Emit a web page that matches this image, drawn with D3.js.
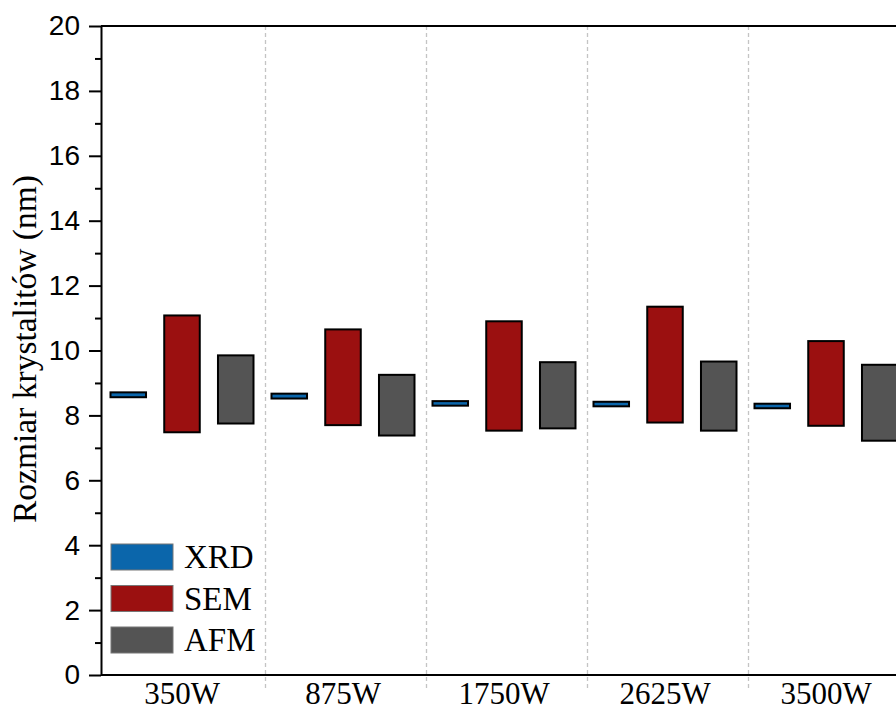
<!DOCTYPE html>
<html>
<head>
<meta charset="utf-8">
<script src="https://cdn.jsdelivr.net/npm/d3@7"></script>
<style>
  html, body { margin: 0; padding: 0; background: #fff; }
  svg { display: block; }
</style>
</head>
<body>
<svg id="chart" width="896" height="711"></svg>
<script>
// ---- data ----
const categories = ["350W", "875W", "1750W", "2625W", "3500W"];
const seriesNames = ["XRD", "SEM", "AFM"];
const xrdLow  = [8.56, 8.52, 8.30, 8.28, 8.22];
const xrdHigh = [8.71, 8.67, 8.44, 8.42, 8.36];
const semLow  = [7.48, 7.70, 7.53, 7.78, 7.68];
const semHigh = [11.08, 10.65, 10.90, 11.35, 10.29];
const afmLow  = [7.75, 7.38, 7.60, 7.53, 7.22];
const afmHigh = [9.85, 9.25, 9.64, 9.66, 9.56];
const yTicks = [0, 2, 4, 6, 8, 10, 12, 14, 16, 18, 20];
const yMinorTicks = [1, 3, 5, 7, 9, 11, 13, 15, 17, 19];
const colors = ["#0b66ab", "#9b1010", "#545454"];
const yTitle = "Rozmiar krystalitów (nm)";

const lows = [xrdLow, semLow, afmLow];
const highs = [xrdHigh, semHigh, afmHigh];

const svg = d3.select("#chart");
const axisX0 = 101, plotRight = 909, yTop = 26, yBottom = 675;

const y = d3.scaleLinear().domain([0, 20]).range([yBottom, yTop]);
const x = d3.scaleBand().domain(categories).range([101.5, 906.5]).padding(0);
const xs = d3.scaleBand().domain(seriesNames).range([9, 152]).paddingInner(0.339).paddingOuter(0);

// separators (dashed)
svg.append("g").selectAll("line")
  .data(categories.slice(0, -1))
  .join("line")
  .attr("x1", d => x(d) + x.bandwidth() + 3)
  .attr("x2", d => x(d) + x.bandwidth() + 3)
  .attr("y1", yTop).attr("y2", 690)
  .attr("stroke", "#c4c4c4").attr("stroke-width", 1.3)
  .attr("stroke-dasharray", "4,3");

// bars
seriesNames.forEach((s, si) => {
  svg.append("g").selectAll("rect")
    .data(categories.map((c, i) => ({c, lo: lows[si][i], hi: highs[si][i]})))
    .join("rect")
    .attr("x", d => x(d.c) + xs(s))
    .attr("width", xs.bandwidth())
    .attr("y", d => y(d.hi))
    .attr("height", d => y(d.lo) - y(d.hi))
    .attr("fill", colors[si])
    .attr("stroke", "#000").attr("stroke-width", 2);
});

// frame lines
svg.append("line").attr("x1", axisX0).attr("x2", plotRight).attr("y1", yTop).attr("y2", yTop)
  .attr("stroke", "#000").attr("stroke-width", 2);
svg.append("line").attr("x1", axisX0).attr("x2", plotRight).attr("y1", yBottom).attr("y2", yBottom)
  .attr("stroke", "#000").attr("stroke-width", 2);

// y axis minor ticks
const yMinor = svg.append("g").attr("transform", `translate(${axisX0},0)`)
  .call(d3.axisLeft(y).tickValues(yMinorTicks).tickSize(6).tickSizeOuter(0).tickFormat(""));
yMinor.select(".domain").remove();
yMinor.selectAll("line").attr("stroke", "#000").attr("stroke-width", 2);

// y axis major
const yAxis = svg.append("g").attr("transform", `translate(${axisX0},0)`)
  .call(d3.axisLeft(y).tickValues(yTicks).tickSize(12).tickSizeOuter(0).tickPadding(9));
yAxis.attr("font-size", 28).attr("font-family", "Liberation Sans, Arial, sans-serif");
yAxis.select(".domain").attr("stroke", "#000").attr("stroke-width", 2);
yAxis.selectAll("line").attr("stroke", "#000").attr("stroke-width", 2);
yAxis.selectAll("text")
  .style("font-family", "'Liberation Sans', Arial, sans-serif")
  .style("font-size", "28px").attr("fill", "#000");

// x labels
const xAxis = svg.append("g").attr("transform", `translate(0,${yBottom})`)
  .call(d3.axisBottom(x).tickSize(0).tickPadding(0));
xAxis.select(".domain").remove();
xAxis.selectAll("text")
  .style("font-family", "'Liberation Serif', 'Times New Roman', serif")
  .style("font-size", "31px").attr("fill", "#000")
  .attr("y", 29).attr("dy", 0);

// y title
svg.append("text")
  .attr("transform", `translate(36,349) rotate(-90)`)
  .attr("text-anchor", "middle")
  .style("font-family", "'Liberation Serif', 'Times New Roman', serif")
  .style("font-size", "33.5px").attr("fill", "#000")
  .text(yTitle);

// legend
const legend = svg.append("g").attr("transform", "translate(111,544)");
seriesNames.forEach((s, i) => {
  const g = legend.append("g").attr("transform", `translate(0,${i * 41.5})`);
  g.append("rect").attr("width", 62).attr("height", 26)
    .attr("fill", colors[i]).attr("stroke", "#777").attr("stroke-width", 1);
  g.append("text").attr("x", 73).attr("y", 24)
    .style("font-family", "'Liberation Serif', 'Times New Roman', serif")
    .style("font-size", "33px").attr("fill", "#000")
    .text(s);
});
</script>
</body>
</html>
